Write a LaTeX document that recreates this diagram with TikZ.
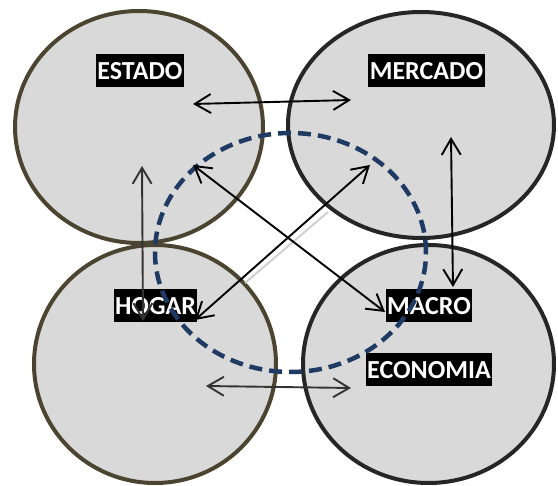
\documentclass[tikz,border=0pt]{standalone}
\usepackage{fontspec}
\setmainfont{Carlito}
\usetikzlibrary{arrows.meta,shapes.geometric}
\definecolor{circfill}{HTML}{D9D9D9}
\definecolor{olivrim}{HTML}{4A4430}
\definecolor{darkrim}{HTML}{262626}
\definecolor{navyring}{HTML}{1F3B64}
\definecolor{arrowgray}{HTML}{333333}
\definecolor{shadowgray}{HTML}{D0D0D0}
\tikzset{
  sphere/.style={ellipse, draw, fill=circfill, line width=4pt, inner sep=0pt},
  lbl/.style={fill=black, text=white, inner xsep=1.5pt, inner ysep=4pt,
    text height=21.5pt, text depth=4pt,
    font=\fontsize{26}{30}\selectfont\bfseries},
  conn/.style={line width=1.9pt,
    {Straight Barb[length=16pt,width=19pt]}-{Straight Barb[length=16pt,width=19pt]}},
}
\begin{document}
\begin{tikzpicture}[x=1pt,y=-1pt]
\useasboundingbox (0,0) rectangle (558,486);
% circles
\node[sphere, draw=olivrim, minimum width=248pt, minimum height=232pt] (estado) at (139,127) {};
\node[sphere, draw=darkrim, minimum width=266pt, minimum height=226pt] (mercado) at (421,125) {};
\node[sphere, draw=olivrim, minimum width=242pt, minimum height=238pt] (hogar) at (155,364) {};
\node[sphere, draw=darkrim, minimum width=251pt, minimum height=238pt] (macro) at (428.5,364) {};
% labels
\node[lbl] (lestado) at (140,70.5) {ESTADO};
\node[lbl] (lmercado) at (426.5,70.5) {MERCADO};
\node[lbl] (lhogar) at (155.5,305.5) {HOGAR};
\node[lbl] (lmacro) at (429,305.5) {MACRO};
\node[lbl] (lecon) at (429,369.5) {ECONOMIA};
% dashed ring
\node[ellipse, draw=navyring, line width=4.5pt, dash pattern=on 13pt off 7pt,
  minimum width=271pt, minimum height=239pt, inner sep=0pt] (ring) at (290.5,252.5) {};
% faint shadow line
\coordinate (s1) at (245,283);
\coordinate (s2) at (328,212);
\draw[shadowgray, line width=2pt] (s1) -- (s2);
% arrow end points
\coordinate (a1) at (193,104);
\coordinate (b1) at (351,100);
\coordinate (a2) at (142,166);
\coordinate (b2) at (143,321);
\coordinate (a3) at (451,137);
\coordinate (b3) at (453,287);
\coordinate (a4) at (193,165);
\coordinate (b4) at (385,312);
\coordinate (a5) at (195,320);
\coordinate (b5) at (370,165);
\coordinate (a6) at (206,386);
\coordinate (b6) at (351,388);
% arrows
\draw[conn] (a1) -- (b1);
\draw[conn, arrowgray] (a2) -- (b2);
\draw[conn] (a3) -- (b3);
\draw[conn] (a4) -- (b4);
\draw[conn] (a5) -- (b5);
\draw[conn, arrowgray] (a6) -- (b6);
\end{tikzpicture}
\end{document}
